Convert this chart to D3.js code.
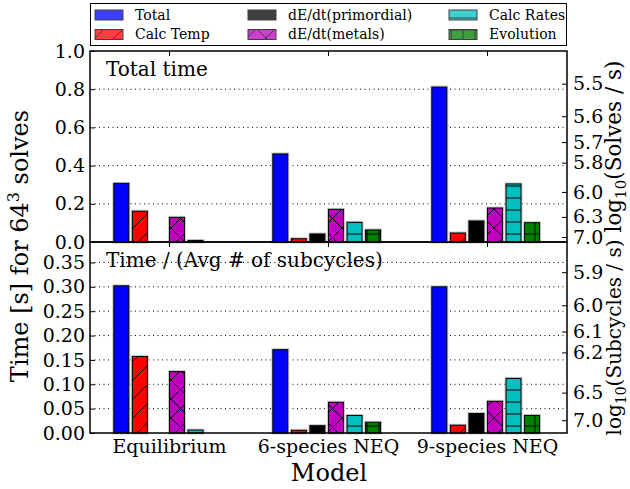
<!DOCTYPE html>
<html>
<head>
<meta charset="utf-8">
<script src="https://cdn.jsdelivr.net/npm/d3@7"></script>
<style>
  html, body { margin: 0; padding: 0; background: #fff; }
  svg { display: block; }
  svg text { font-family: "DejaVu Serif", serif; }
</style>
</head>
<body>
<svg id="chart" width="630" height="489"></svg>
<script>
// Models on the x axis
const models = ["Equilibrium", "6-species NEQ", "9-species NEQ"];
// Timer components, in legend order
const components = ["Total", "Calc Temp", "dE/dt(primordial)", "dE/dt(metals)", "Calc Rates", "Evolution"];
const componentColors = ["#0000ff", "#ff0000", "#000000", "#bf00bf", "#00bfbf", "#008000"];
const componentHatches = ["", "/", "\\", "x", "-", "+"];

// Total time [s] for 64^3 solves, one array per component (Equilibrium, 6-species, 9-species)
const totalTotal      = [0.307, 0.461, 0.811];
const totalCalcTemp   = [0.161, 0.017, 0.047];
const totalPrimordial = [0.000, 0.042, 0.110];
const totalMetals     = [0.129, 0.171, 0.178];
const totalCalcRates  = [0.008, 0.103, 0.304];
const totalEvolution  = [0.000, 0.063, 0.101];

// Time per average number of subcycles [s]
const subTotal      = [0.302, 0.171, 0.300];
const subCalcTemp   = [0.157, 0.0055, 0.016];
const subPrimordial = [0.000, 0.015, 0.040];
const subMetals     = [0.126, 0.063, 0.065];
const subCalcRates  = [0.006, 0.036, 0.112];
const subEvolution  = [0.000, 0.022, 0.036];

// Axis ticks
const topTicks = [0.0, 0.2, 0.4, 0.6, 0.8, 1.0];
const bottomTicks = [0.00, 0.05, 0.10, 0.15, 0.20, 0.25, 0.30, 0.35];
const topRightTicks = [5.5, 5.6, 5.7, 5.8, 6.0, 6.3, 7.0];
const bottomRightTicks = [5.9, 6.0, 6.1, 6.2, 6.5, 7.0];

const cells = 64 ** 3;
const SERIF = "DejaVu Serif";

const panels = [
  { title: "Total time", values: [totalTotal, totalCalcTemp, totalPrimordial, totalMetals, totalCalcRates, totalEvolution],
    ticks: topTicks, fmt: ".1f", rightTicks: topRightTicks, rightLabel: "Solves / s", yMax: 1.0, top: 51, bottom: 242, rightSize: 21.5 },
  { title: "Time / (Avg # of subcycles)", values: [subTotal, subCalcTemp, subPrimordial, subMetals, subCalcRates, subEvolution],
    ticks: bottomTicks, fmt: ".2f", rightTicks: bottomRightTicks, rightLabel: "Subcycles / s", yMax: 0.392, top: 242, bottom: 433, rightSize: 20 }
];

const left = 90, right = 567;
const svg = d3.select("#chart");

const x = d3.scaleLinear().domain([-0.5, models.length - 0.5]).range([left, right]);
const barStep = 0.1167;   // spacing between component bars, in model units
const barWidth = 0.094;   // bar width, in model units

// Hatch patterns (black lines on a transparent background)
const defs = svg.append("defs");
function addPattern(id, size, d) {
  defs.append("pattern")
    .attr("id", id).attr("patternUnits", "userSpaceOnUse")
    .attr("width", size).attr("height", size)
    .append("path").attr("d", d)
    .attr("stroke", "#000").attr("stroke-width", 1).attr("fill", "none");
}
const diag = 19, line = 12;
addPattern("h-slash", diag, `M0,${diag} L${diag},0 M${-diag/2},${diag/2} L${diag/2},${-diag/2} M${diag/2},${diag*1.5} L${diag*1.5},${diag/2}`);
addPattern("h-back", diag, `M0,0 L${diag},${diag} M${-diag/2},${diag/2} L${diag/2},${diag*1.5} M${diag/2},${-diag/2} L${diag*1.5},${diag/2}`);
addPattern("h-x", diag, `M0,${diag} L${diag},0 M${-diag/2},${diag/2} L${diag/2},${-diag/2} M${diag/2},${diag*1.5} L${diag*1.5},${diag/2} M0,0 L${diag},${diag} M${-diag/2},${diag/2} L${diag/2},${diag*1.5} M${diag/2},${-diag/2} L${diag*1.5},${diag/2}`);
addPattern("h-dash", line, `M0,${line/2} L${line},${line/2}`);
addPattern("h-plus", line, `M0,${line/2} L${line},${line/2} M${line/2 + 1},0 L${line/2 + 1},${line}`);
const hatchId = { "/": "h-slash", "\\": "h-back", "x": "h-x", "-": "h-dash", "+": "h-plus" };

panels.forEach((p, pi) => {
  const y = d3.scaleLinear().domain([0, p.yMax]).range([p.bottom, p.top]);
  const g = svg.append("g");

  // dotted horizontal grid
  g.append("g").selectAll("line")
    .data(p.ticks.filter(t => t > 0 && t < p.yMax - 1e-9))
    .join("line")
    .attr("x1", left).attr("x2", right)
    .attr("y1", d => y(d)).attr("y2", d => y(d))
    .attr("stroke", "#000").attr("stroke-width", 1)
    .attr("stroke-dasharray", "1,3.5");

  // model ticks on top and bottom edges, pointing inward
  g.append("g").selectAll("line")
    .data(models.flatMap((m, i) => [{ i, y1: p.top, y2: p.top + 5 }, { i, y1: p.bottom, y2: p.bottom - 5 }]))
    .join("line")
    .attr("x1", d => x(d.i)).attr("x2", d => x(d.i))
    .attr("y1", d => d.y1).attr("y2", d => d.y2)
    .attr("stroke", "#000").attr("stroke-width", 1);

  // bars
  const bars = [];
  p.values.forEach((vals, ci) => {
    vals.forEach((v, mi) => bars.push({ ci, mi, v }));
  });
  const bg = g.append("g");
  const bx = d => x(d.mi + (d.ci - 3) * barStep);
  const bw = x(barWidth) - x(0);
  bg.selectAll("rect.halo").data(bars.filter(d => d.v > 0)).join("rect")
    .attr("class", "halo")
    .attr("x", bx).attr("width", bw)
    .attr("y", d => y(d.v)).attr("height", d => y(0) - y(d.v))
    .attr("fill", "none").attr("stroke", "#c8c8c8").attr("stroke-width", 3);
  bg.selectAll("rect.bar").data(bars).join("rect")
    .attr("class", "bar")
    .attr("x", bx).attr("width", bw)
    .attr("y", d => y(d.v)).attr("height", d => y(0) - y(d.v))
    .attr("fill", d => componentColors[d.ci]);
  bg.selectAll("rect.hatch").data(bars.filter(d => componentHatches[d.ci] && d.v > 0)).join("rect")
    .attr("class", "hatch")
    .attr("x", bx).attr("width", bw)
    .attr("y", d => y(d.v)).attr("height", d => y(0) - y(d.v))
    .attr("fill", d => `url(#${hatchId[componentHatches[d.ci]]})`);
  bg.selectAll("rect.edge").data(bars.filter(d => d.v > 0)).join("rect")
    .attr("class", "edge")
    .attr("x", bx).attr("width", bw)
    .attr("y", d => y(d.v)).attr("height", d => y(0) - y(d.v))
    .attr("fill", "none").attr("stroke", "#000").attr("stroke-width", 1);

  // frame
  g.append("rect")
    .attr("x", left).attr("y", p.top)
    .attr("width", right - left).attr("height", p.bottom - p.top)
    .attr("fill", "none").attr("stroke", "#000").attr("stroke-width", 1.5);

  // left axis
  const la = g.append("g").attr("transform", `translate(${left},0)`)
    .call(d3.axisLeft(y).tickValues(p.ticks).tickFormat(d3.format(p.fmt))
      .tickSizeInner(-5).tickSizeOuter(0).tickPadding(5));
  la.attr("font-family", SERIF);
  la.select(".domain").remove();
  la.selectAll("text").attr("font-family", SERIF).attr("font-size", 19).attr("fill", "#000");
  la.selectAll("line").attr("stroke", "#000");

  // right axis: log10 of rate, placed at the matching time
  const ra = g.append("g").attr("transform", `translate(${right},0)`)
    .call(d3.axisRight(y).tickValues(p.rightTicks.map(v => cells / Math.pow(10, v)))
      .tickFormat(t => d3.format(".1f")(Math.log10(cells / t)))
      .tickSizeInner(-5).tickSizeOuter(0).tickPadding(6));
  ra.attr("font-family", SERIF);
  ra.select(".domain").remove();
  ra.selectAll("text").attr("font-family", SERIF).attr("font-size", 19).attr("fill", "#000");
  ra.selectAll("line").attr("stroke", "#000");

  // right axis label
  const rl = g.append("text")
    .attr("transform", `translate(621,${(p.top + p.bottom) / 2}) rotate(-90)`)
    .attr("text-anchor", "middle")
    .attr("font-family", SERIF)
    .attr("font-size", p.rightSize);
  rl.append("tspan").text("log");
  rl.append("tspan").attr("font-size", p.rightSize * 0.7).attr("dy", p.rightSize * 0.25).text("10");
  rl.append("tspan").attr("dy", -p.rightSize * 0.25).text(`(${p.rightLabel})`);

  // panel title
  g.append("text").attr("x", 106).attr("y", p.top + 25)
    .attr("font-family", SERIF).attr("font-size", 20).text(p.title);

  // model labels under the lower panel
  if (pi === panels.length - 1) {
    g.append("g").selectAll("text").data(models).join("text")
      .attr("x", (d, i) => x(i)).attr("y", p.bottom + 20)
      .attr("text-anchor", "middle").attr("font-family", SERIF).attr("font-size", 19).text(d => d);
  }
});

// axis titles
svg.append("text").attr("x", 329).attr("y", 481)
  .attr("text-anchor", "middle").attr("font-family", SERIF).attr("font-size", 24).text("Model");

const yl = svg.append("text")
  .attr("transform", "translate(28,246) rotate(-90)")
  .attr("text-anchor", "middle").attr("font-family", SERIF).attr("font-size", 24);
yl.append("tspan").text("Time [s] for 64");
yl.append("tspan").attr("font-size", 16).attr("dy", -9).text("3");
yl.append("tspan").attr("dy", 9).text(" solves");

// legend
const legend = svg.append("g");
legend.append("rect").attr("x", 90.5).attr("y", 3.5).attr("width", 476).attr("height", 42)
  .attr("fill", "#fff").attr("stroke", "#000").attr("stroke-width", 1);
const legendCols = [95, 248, 449];
components.forEach((name, i) => {
  const col = Math.floor(i / 2), row = i % 2;
  const px = legendCols[col], py = 10 + row * 19.5;
  const item = legend.append("g");
  const patch = item.append("g").attr("opacity", 0.75);
  patch.append("rect").attr("x", px).attr("y", py).attr("width", 28).attr("height", 10)
    .attr("fill", componentColors[i]);
  if (componentHatches[i]) {
    patch.append("rect").attr("x", px).attr("y", py).attr("width", 28).attr("height", 10)
      .attr("fill", `url(#${hatchId[componentHatches[i]]})`);
  }
  patch.append("rect").attr("x", px).attr("y", py).attr("width", 28).attr("height", 10)
    .attr("fill", "none").attr("stroke", "#000").attr("stroke-width", 1);
  item.append("text").attr("x", px + 40).attr("y", py + 9.5)
    .attr("font-family", SERIF).attr("font-size", 14).text(name);
});
</script>
</body>
</html>
